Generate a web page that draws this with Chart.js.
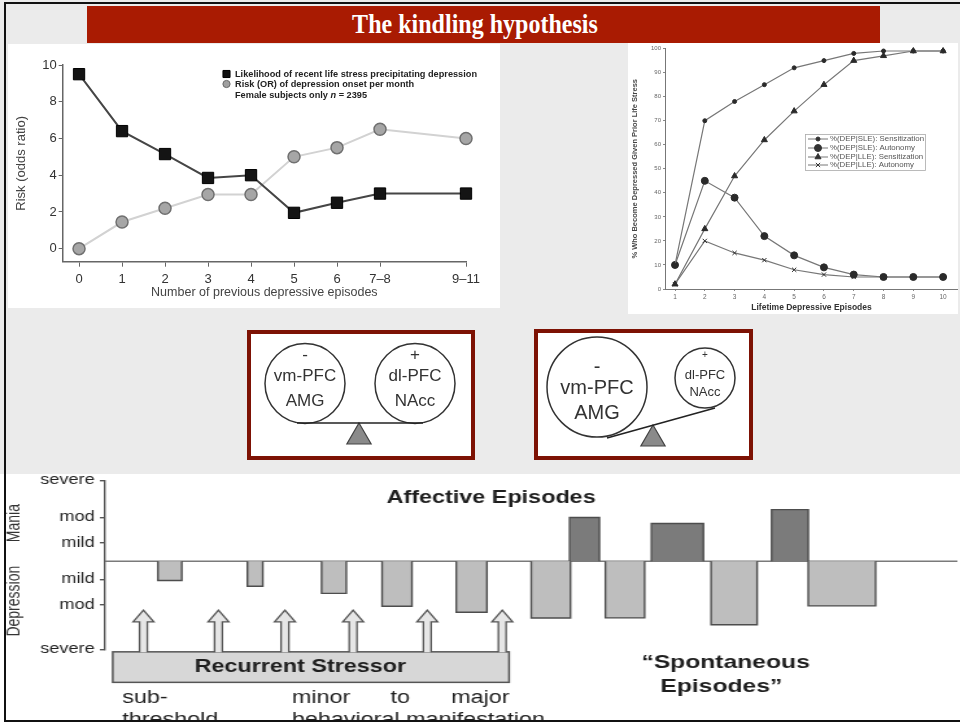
<!DOCTYPE html>
<html>
<head>
<meta charset="utf-8">
<script src="https://cdn.jsdelivr.net/npm/chart.js@4.4.1/dist/chart.umd.min.js"></script>
<style>
  html, body { margin: 0; padding: 0; }
  body { width: 960px; height: 722px; position: relative; overflow: hidden; background: #ebebeb; }
  canvas { position: absolute; }
  #banner { position: absolute; left: 87px; top: 6px; width: 793px; height: 37px; background: #a91b02; }
  #banner span { position: absolute; left: 388px; top: 3px; line-height: 37px; white-space: nowrap; color: #fff;
    font: bold 27px 'Liberation Serif', 'Times New Roman', serif; transform: translateX(-50%) scaleX(0.89); }
  .box { position: absolute; width: 220px; height: 122px; border: 4px solid #7d1204; background: #fff; }
  #panelE { position: absolute; left: 0; top: 474px; width: 960px; height: 248px; background: #fff; }
  #frame { position: absolute; left: 4px; top: 2px; width: 956px; height: 716px; border-top: 2px solid #111;
    border-left: 2px solid #111; border-bottom: 2px solid #111; pointer-events: none; }
</style>
</head>
<body>
<div id="banner"><span>The kindling hypothesis</span></div>

<canvas id="chartA" width="492" height="264" style="left:8px;top:44px;background:#fff"></canvas>
<canvas id="chartB" width="330" height="271" style="left:628px;top:43px;background:#fff"></canvas>

<div class="box" style="left:247px;top:330px;"><canvas id="balance1" width="220" height="122" style="left:0;top:0"></canvas></div>
<div class="box" style="left:534px;top:329px;width:211px;height:123px;"><canvas id="balance2" width="211" height="123" style="left:0;top:0"></canvas></div>

<div id="panelE"></div>
<canvas id="chartE" width="740" height="254" style="left:0;top:468px;width:960px;height:254px"></canvas>
<div id="frame"></div>

<script>
const FONT = "'Liberation Sans', Arial, sans-serif";
const helpers = Chart.helpers;

// ---- top left: stress vs onset risk ----
const episodeValuesA = [0, 1, 2, 3, 4, 5, 6, 7, 9];
const episodeLabelsA = ['0', '1', '2', '3', '4', '5', '6', '7\u20138', '9\u201311'];
const stressLikelihood = [9.5, 6.4, 5.15, 3.85, 4.0, 1.95, 2.5, 3.0, 3.0];
const onsetRisk = [0, 1.45, 2.2, 2.95, 2.95, 5.0, 5.5, 6.5, 6.0];
const riskTicks = [0, 2, 4, 6, 8, 10];
const seriesNamesA = ['Likelihood of recent life stress precipitating depression',
                      'Risk (OR) of depression onset per month'];

// ---- top right: sensitization / autonomy ----
const lifetimeEpisodes = [1, 2, 3, 4, 5, 6, 7, 8, 9, 10];
const sleSensitization = [10, 70, 78, 85, 92, 95, 98, 99, 99, 99];
const sleAutonomy = [10, 45, 38, 22, 14, 9, 6, 5, 5, 5];
const lleSensitization = [2, 25, 47, 62, 74, 85, 95, 97, 99, 99];
const lleAutonomy = [2, 20, 15, 12, 8, 6, 5, 5, 5, 5];
const seriesNamesB = ['%(DEP|SLE): Sensitization', '%(DEP|SLE): Autonomy',
                      '%(DEP|LLE): Sensitization', '%(DEP|LLE): Autonomy'];

// ---- balance diagrams ----
const nodesX1 = [54, 164], nodesY1 = [49.5, 49.5], nodesR1 = [40, 40];
const beamX1 = [46, 172], beamY1 = [89, 89];
const pivot1 = [108, 103];
const nodesX2 = [59, 167], nodesY2 = [54, 45], nodesR2 = [50, 30];
const beamX2 = [69, 177], beamY2 = [105, 75];
const pivot2 = [115, 106];
const nodeLabels = [['-', 'vm-PFC', 'AMG'], ['+', 'dl-PFC', 'NAcc']];

// ---- bottom: affective episodes ----
const severityTicks = [-4.85, -2.4, -1, 1, 2.4, 4.45];
const severityLabels = ['severe', 'mod', 'mild', 'mild', 'mod', 'severe'];
const depressionStart = [6.2, 16.7, 25.4, 32.5, 41.2, 50.0, 58.7, 71.1, 82.5];
const depressionEnd   = [9.0, 18.5, 28.3, 36.0, 44.8, 54.6, 63.3, 76.5, 90.4];
const depressionDepth = [-1.06, -1.38, -1.77, -2.48, -2.81, -3.13, -3.12, -3.5, -2.46];
const maniaStart  = [54.5, 64.1, 78.2];
const maniaEnd    = [58.0, 70.2, 82.5];
const maniaHeight = [2.41, 2.08, 2.84];
const stressorArrows = [4.5, 13.3, 21.1, 29.1, 37.8, 46.6];

function stretchedText(ctx, text, x, y, k) {
  ctx.save();
  ctx.translate(x, y);
  ctx.scale(k, 1);
  ctx.fillText(text, 0, 0);
  ctx.restore();
  return ctx.measureText(text).width * k;
}

// chart A
const legendA = {
  id: 'legendA',
  afterDraw(chart) {
    const ctx = chart.ctx;
    const rows = [30, 40, 51];
    ctx.save();
    ctx.textBaseline = 'middle';
    ctx.textAlign = 'left';
    ctx.font = 'bold 9.5px ' + FONT;
    const k = 242 / ctx.measureText(seriesNamesA[0]).width;
    ctx.fillStyle = '#111'; ctx.strokeStyle = '#000'; ctx.lineWidth = 1;
    helpers.drawPoint(ctx, {pointStyle: 'rect', radius: 5, borderWidth: 1}, 218.5, rows[0]);
    ctx.fillStyle = '#a0a0a0'; ctx.strokeStyle = '#666';
    helpers.drawPoint(ctx, {pointStyle: 'circle', radius: 3.6, borderWidth: 1}, 218.5, rows[1]);
    ctx.fillStyle = '#222';
    stretchedText(ctx, seriesNamesA[0], 227, rows[0], k);
    stretchedText(ctx, seriesNamesA[1], 227, rows[1], k);
    let x = 227;
    x += stretchedText(ctx, 'Female subjects only ', x, rows[2], k);
    ctx.font = 'bold italic 9.5px ' + FONT;
    x += stretchedText(ctx, 'n', x, rows[2], k);
    ctx.font = 'bold 9.5px ' + FONT;
    stretchedText(ctx, ' = 2395', x, rows[2], k);
    ctx.restore();
  }
};

new Chart(document.getElementById('chartA'), {
  type: 'line',
  data: {
    datasets: [
      {
        label: seriesNamesA[0],
        data: episodeValuesA.map((x, i) => ({x, y: stressLikelihood[i]})),
        borderColor: '#454545', borderWidth: 2,
        pointStyle: 'rect', pointRadius: 8,
        pointBackgroundColor: '#141414', pointBorderColor: '#000', pointBorderWidth: 1,
        clip: false
      },
      {
        label: seriesNamesA[1],
        data: episodeValuesA.map((x, i) => ({x, y: onsetRisk[i]})),
        borderColor: '#d2d2d2', borderWidth: 2,
        pointStyle: 'circle', pointRadius: 6,
        pointBackgroundColor: '#a6a6a6', pointBorderColor: '#707070', pointBorderWidth: 1.5,
        clip: false
      }
    ]
  },
  options: {
    responsive: false, animation: false, events: [],
    layout: {autoPadding: false, padding: {top: 21, right: 34, bottom: 0, left: 0}},
    plugins: {legend: {display: false}, tooltip: {enabled: false}},
    scales: {
      x: {
        type: 'linear', min: -0.38, max: 9,
        afterBuildTicks: s => { s.ticks = episodeValuesA.map(v => ({value: v})); },
        afterFit: s => { s.height = 46.3; },
        ticks: {callback: (v, i) => episodeLabelsA[i], autoSkip: false, maxRotation: 0,
                color: '#333', font: {size: 13}, padding: 5},
        grid: {drawOnChartArea: false, tickLength: 5, color: '#666'},
        border: {display: true, color: '#666', width: 1.5},
        title: {display: true, text: 'Number of previous depressive episodes', color: '#444',
                font: {size: 12.5}, padding: {top: 0, bottom: 7.5}}
      },
      y: {
        type: 'linear', min: -0.71, max: 10,
        afterBuildTicks: s => { s.ticks = riskTicks.map(v => ({value: v})); },
        afterFit: s => { s.width = 54.7; },
        ticks: {color: '#333', font: {size: 13}, padding: 2},
        grid: {drawOnChartArea: false, tickLength: 4, color: '#666'},
        border: {display: true, color: '#666', width: 1.5},
        title: {display: true, text: 'Risk (odds ratio)', color: '#444', font: {size: 13},
                padding: {top: 6, bottom: 0}}
      }
    }
  },
  plugins: [legendA]
});

// chart B
const markerStylesB = [
  {pointStyle: 'circle', radius: 2},
  {pointStyle: 'circle', radius: 3.5},
  {pointStyle: 'triangle', radius: 3.5},
  {pointStyle: 'crossRot', radius: 3}
];
const legendB = {
  id: 'legendB',
  afterDraw(chart) {
    const ctx = chart.ctx;
    const rows = [96, 105, 114, 122];
    ctx.save();
    ctx.strokeStyle = '#aaa'; ctx.lineWidth = 0.8;
    ctx.strokeRect(177.5, 91.5, 120, 36);
    ctx.font = '7px ' + FONT;
    ctx.textBaseline = 'middle';
    const k = 94 / ctx.measureText(seriesNamesB[0]).width;
    seriesNamesB.forEach((name, i) => {
      ctx.strokeStyle = '#777'; ctx.lineWidth = 1;
      ctx.beginPath(); ctx.moveTo(180, rows[i]); ctx.lineTo(200, rows[i]); ctx.stroke();
      ctx.fillStyle = '#333'; ctx.strokeStyle = '#333';
      helpers.drawPoint(ctx, Object.assign({borderWidth: 1}, markerStylesB[i]), 190, rows[i]);
      ctx.fillStyle = '#555';
      stretchedText(ctx, name, 202, rows[i], k);
    });
    ctx.restore();
  }
};

const seriesB = [sleSensitization, sleAutonomy, lleSensitization, lleAutonomy];
new Chart(document.getElementById('chartB'), {
  type: 'line',
  data: {
    datasets: seriesB.map((vals, s) => ({
      label: seriesNamesB[s],
      data: lifetimeEpisodes.map((x, i) => ({x, y: vals[i]})),
      borderColor: '#777', borderWidth: 1.2,
      pointStyle: markerStylesB[s].pointStyle, pointRadius: markerStylesB[s].radius,
      pointBackgroundColor: '#2a2a2a', pointBorderColor: '#2a2a2a', pointBorderWidth: 1,
      clip: false
    }))
  },
  options: {
    responsive: false, animation: false, events: [],
    layout: {autoPadding: false, padding: {top: 3.7, right: 0, bottom: 0, left: 0}},
    plugins: {legend: {display: false}, tooltip: {enabled: false}},
    scales: {
      x: {
        type: 'linear', min: 0.664, max: 10.5,
        afterBuildTicks: s => { s.ticks = lifetimeEpisodes.map(v => ({value: v})); },
        afterFit: s => { s.height = 25; },
        ticks: {color: '#666', font: {size: 6.5}, padding: 2, autoSkip: false, maxRotation: 0},
        grid: {drawOnChartArea: false, tickLength: 2, color: '#888'},
        border: {display: true, color: '#777', width: 1},
        title: {display: true, text: 'Lifetime Depressive Episodes', color: '#333',
                font: {size: 8.5, weight: 'bold'}, padding: {top: 0, bottom: 1}}
      },
      y: {
        type: 'linear', min: 0, max: 100,
        ticks: {stepSize: 10, color: '#666', font: {size: 6}, padding: 2},
        afterFit: s => { s.width = 37; },
        grid: {drawOnChartArea: false, tickLength: 2, color: '#888'},
        border: {display: true, color: '#777', width: 1},
        title: {display: true, text: '% Who Become Depressed Given Prior Life Stress', color: '#444',
                font: {size: 7.5, weight: 'bold'}, padding: {top: 2.5, bottom: 0}}
      }
    }
  },
  plugins: [legendB]
});

// balance diagrams
function makeBalance(canvasId, xs, ys, rs, beamX, beamY, pivot, textLayout) {
  const el = document.getElementById(canvasId);
  const nodeText = {
    id: 'nodeText',
    afterDraw(chart) {
      const ctx = chart.ctx;
      const meta = chart.getDatasetMeta(1);
      ctx.save();
      ctx.fillStyle = '#333';
      ctx.textAlign = 'center';
      ctx.textBaseline = 'middle';
      meta.data.forEach((pt, i) => {
        nodeLabels[i].forEach((t, j) => {
          ctx.font = textLayout[i].size[j] + 'px ' + FONT;
          ctx.fillText(t, pt.x, pt.y + textLayout[i].dy[j]);
        });
      });
      ctx.restore();
    }
  };
  return new Chart(el, {
    type: 'bubble',
    data: {
      datasets: [
        {type: 'line', data: beamX.map((x, i) => ({x, y: beamY[i]})), borderColor: '#222',
         borderWidth: 1.6, pointRadius: 0, clip: false, order: 0},
        {data: xs.map((x, i) => ({x, y: ys[i], r: rs[i]})), backgroundColor: '#fff',
         borderColor: '#333', borderWidth: 1.5, clip: false, order: 1},
        {data: [{x: pivot[0], y: pivot[1], r: 14}], pointStyle: 'triangle', backgroundColor: '#8a8a8a',
         borderColor: '#444', borderWidth: 1.2, clip: false, order: 2}
      ]
    },
    options: {
      responsive: false, animation: false, events: [],
      layout: {autoPadding: false, padding: 0},
      plugins: {legend: {display: false}, tooltip: {enabled: false}},
      scales: {
        x: {type: 'linear', display: false, min: 0, max: el.width},
        y: {type: 'linear', display: false, min: 0, max: el.height, reverse: true}
      }
    },
    plugins: [nodeText]
  });
}

makeBalance('balance1', nodesX1, nodesY1, nodesR1, beamX1, beamY1, pivot1, [
  {size: [17, 17, 17], dy: [-28.5, -7, 18]},
  {size: [17, 17, 17], dy: [-28.5, -7, 18]}
]);
makeBalance('balance2', nodesX2, nodesY2, nodesR2, beamX2, beamY2, pivot2, [
  {size: [20, 20, 20], dy: [-20, 1.5, 26.5]},
  {size: [10, 13, 13], dy: [-23, -3, 14]}
]);

// bottom chart
function episodeBar(start, end, value, fill) {
  return {
    type: 'line',
    data: [{x: start, y: 0}, {x: start, y: value}, {x: end, y: value}, {x: end, y: 0}],
    fill: 'origin', backgroundColor: fill, borderColor: '#4d4d4d', borderWidth: 1.4,
    pointRadius: 0, tension: 0
  };
}
const barSets = [];
depressionStart.forEach((s, i) => barSets.push(episodeBar(s, depressionEnd[i], depressionDepth[i], '#bebebe')));
maniaStart.forEach((s, i) => barSets.push(episodeBar(s, maniaEnd[i], maniaHeight[i], '#7b7b7b')));

const episodeNotes = {
  id: 'episodeNotes',
  beforeDatasetsDraw(chart) {
    const {ctx, scales: {x, y}} = chart;
    ctx.save();
    ctx.strokeStyle = '#7a7a7a'; ctx.lineWidth = 1.5;
    ctx.beginPath();
    ctx.moveTo(x.getPixelForValue(0), y.getPixelForValue(0));
    ctx.lineTo(x.getPixelForValue(100), y.getPixelForValue(0));
    ctx.stroke();
    ctx.restore();
  },
  afterDraw(chart) {
    const {ctx, scales: {x, y}} = chart;
    ctx.save();
    // stressor box
    const bx0 = x.getPixelForValue(0.9), bx1 = x.getPixelForValue(47.4);
    const by0 = y.getPixelForValue(-4.99), by1 = y.getPixelForValue(-6.67);
    ctx.fillStyle = '#d7d7d7'; ctx.strokeStyle = '#555'; ctx.lineWidth = 1.5;
    ctx.fillRect(bx0, by0, bx1 - bx0, by1 - by0);
    ctx.strokeRect(bx0, by0, bx1 - bx0, by1 - by0);
    // arrows
    const yTop = y.getPixelForValue(-2.7), yHead = y.getPixelForValue(-3.34);
    stressorArrows.forEach(v => {
      const cx = x.getPixelForValue(v);
      ctx.beginPath();
      ctx.moveTo(cx - 3, by0 + 0.5);
      ctx.lineTo(cx - 3, yHead);
      ctx.lineTo(cx - 8, yHead);
      ctx.lineTo(cx, yTop);
      ctx.lineTo(cx + 8, yHead);
      ctx.lineTo(cx + 3, yHead);
      ctx.lineTo(cx + 3, by0 + 0.5);
      ctx.fillStyle = '#e6e6e6';
      ctx.fill();
      ctx.lineWidth = 1.3;
      ctx.strokeStyle = '#555';
      ctx.stroke();
    });
    ctx.fillStyle = '#1e1e1e';
    ctx.textBaseline = 'middle';
    ctx.textAlign = 'center';
    ctx.font = 'bold 18px ' + FONT;
    ctx.fillText('Recurrent Stressor', x.getPixelForValue(22.9), y.getPixelForValue(-5.84));
    ctx.fillText('Affective Episodes', x.getPixelForValue(45.3), y.getPixelForValue(3.48));
    ctx.font = 'bold 19px ' + FONT;
    ctx.fillText('\u201cSpontaneous', x.getPixelForValue(72.8), y.getPixelForValue(-5.6));
    ctx.fillText('Episodes\u201d', x.getPixelForValue(72.3), y.getPixelForValue(-6.91));
    ctx.textAlign = 'left';
    ctx.font = '18px ' + FONT;
    ctx.fillText('sub-', x.getPixelForValue(2.0), y.getPixelForValue(-7.51));
    ctx.fillText('threshold', x.getPixelForValue(2.0), y.getPixelForValue(-8.72));
    ctx.fillText('minor', x.getPixelForValue(21.9), y.getPixelForValue(-7.51));
    ctx.fillText('to', x.getPixelForValue(33.5), y.getPixelForValue(-7.51));
    ctx.fillText('major', x.getPixelForValue(40.6), y.getPixelForValue(-7.51));
    ctx.fillText('behavioral manifestation', x.getPixelForValue(21.9), y.getPixelForValue(-8.72));
    // side titles
    ctx.font = '14px ' + FONT;
    ctx.fillStyle = '#333';
    ctx.textAlign = 'center';
    [['Mania', 2.1], ['Depression', -2.2]].forEach(([t, v]) => {
      ctx.save();
      ctx.translate(11.6, y.getPixelForValue(v));
      ctx.rotate(-Math.PI / 2);
      ctx.fillText(t, 0, 0);
      ctx.restore();
    });
    ctx.restore();
  }
};

new Chart(document.getElementById('chartE'), {
  type: 'line',
  data: {datasets: barSets},
  options: {
    responsive: false, animation: false, events: [],
    layout: {autoPadding: false, padding: {top: 11.3, right: 2, bottom: 72.7, left: 0}},
    plugins: {legend: {display: false}, tooltip: {enabled: false}},
    scales: {
      x: {type: 'linear', display: false, min: 0, max: 100},
      y: {
        type: 'linear', min: -4.85, max: 4.45,
        afterBuildTicks: s => { s.ticks = severityTicks.map(v => ({value: v})); },
        afterFit: s => { s.width = 81; },
        ticks: {callback: (v, i) => severityLabels[i], color: '#222', font: {size: 14}, padding: 4, autoSkip: false},
        grid: {drawOnChartArea: false, tickLength: 4, color: '#555', lineWidth: 1.4},
        border: {display: true, color: '#555', width: 1.4}
      }
    }
  },
  plugins: [episodeNotes]
});
</script>
</body>
</html>
